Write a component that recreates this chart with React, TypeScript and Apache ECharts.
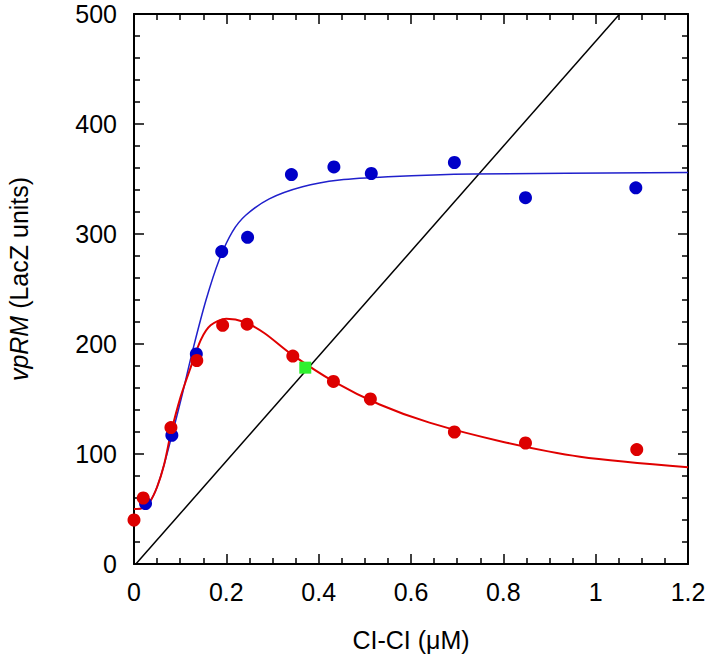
import React, { useEffect, useRef } from "react";
import * as echarts from "echarts";

const xTicks = [0, 0.2, 0.4, 0.6, 0.8, 1, 1.2];
const yTicks = [0, 100, 200, 300, 400, 500];

const bluePoints: [number, number][] = [
  [0.025, 55], [0.082, 117], [0.135, 191], [0.19, 284], [0.246, 297],
  [0.341, 354], [0.433, 361], [0.514, 355], [0.694, 365], [0.848, 333], [1.087, 342],
];
const redPoints: [number, number][] = [
  [0, 40], [0.02, 60], [0.08, 124], [0.136, 185], [0.192, 217], [0.245, 218],
  [0.344, 189], [0.432, 166], [0.512, 150], [0.694, 120], [0.848, 110], [1.089, 104],
];
const blueCurve: [number, number][] = [
  [0, 50], [0.02, 51], [0.035, 57], [0.05, 70], [0.065, 90], [0.087, 125],
  [0.105, 155], [0.127, 194], [0.156, 240], [0.184, 276], [0.213, 302],
  [0.242, 317], [0.293, 332], [0.365, 343], [0.445, 349], [0.55, 352],
  [0.734, 354.5], [1.2, 356],
];
const redCurve: [number, number][] = [
  [0, 50], [0.02, 51], [0.035, 57], [0.05, 70], [0.065, 90], [0.08, 119],
  [0.101, 152], [0.123, 179], [0.145, 204], [0.166, 217], [0.2, 223],
  [0.239, 220], [0.282, 210], [0.34, 191], [0.432, 166], [0.532, 145],
  [0.64, 128.5], [0.8, 111], [0.966, 97.6], [1.2, 88],
];
const identityLine: [number, number][] = [[0.004, 0], [1.052, 500]];
const intersection: [number, number][] = [[0.371, 178.5]];

const FONT = "'Liberation Sans', Arial, sans-serif";
const FS = 25;

export default function App() {
  const ref = useRef<HTMLDivElement>(null);
  useEffect(() => {
    if (!ref.current) return;
    const chart = echarts.init(ref.current, undefined, { renderer: "svg" });
    const axisCommon = {
      axisLine: { show: true, onZero: false, lineStyle: { color: "#000", width: 2 } },
      axisTick: { show: true, inside: true, length: 10, lineStyle: { color: "#000", width: 1.5 } },
      minorTick: { show: true, length: 6, lineStyle: { color: "#000", width: 1.5 } },
      splitLine: { show: false },
      minorSplitLine: { show: false },
    };
    chart.setOption({
      animation: false,
      backgroundColor: "#fff",
      grid: { left: 134, right: 22, top: 14, bottom: 100 },
      xAxis: [
        {
          type: "value", min: 0, max: 1.2, interval: 0.2, position: "bottom",
          ...axisCommon,
          minorTick: { ...axisCommon.minorTick, splitNumber: 4 },
          axisLabel: {
            color: "#000", fontSize: FS, fontFamily: FONT, margin: 15,
            formatter: (v: number) => (xTicks.includes(Math.round(v * 10) / 10) ? String(Math.round(v * 10) / 10) : ""),
          },
          name: "CI-CI (\u03bcM)", nameLocation: "middle", nameGap: 63,
          nameTextStyle: { color: "#000", fontSize: FS, fontFamily: FONT },
        },
        {
          type: "value", min: 0, max: 1.2, interval: 0.2, position: "top",
          ...axisCommon,
          minorTick: { ...axisCommon.minorTick, splitNumber: 4 },
          axisLabel: { show: false },
        },
      ],
      yAxis: [
        {
          type: "value", min: 0, max: 500, interval: 100, position: "left",
          ...axisCommon,
          minorTick: { ...axisCommon.minorTick, splitNumber: 5 },
          axisLabel: {
            color: "#000", fontSize: FS, fontFamily: FONT, margin: 17,
            formatter: (v: number) => (yTicks.includes(v) ? String(v) : ""),
          },
        },
        {
          type: "value", min: 0, max: 500, interval: 100, position: "right",
          ...axisCommon,
          minorTick: { ...axisCommon.minorTick, splitNumber: 5 },
          axisLabel: { show: false },
        },
      ],
      graphic: [
        {
          type: "text",
          x: 19, y: 279, rotation: Math.PI / 2,
          style: {
            text: "{i|vpRM} (LacZ units)",
            fontSize: FS, fontFamily: FONT, fill: "#000",
            align: "center", verticalAlign: "middle",
            rich: { i: { fontStyle: "italic", fontSize: FS, fontFamily: FONT, fill: "#000" } },
          },
        },
      ],
      series: [
        {
          type: "line", data: identityLine, showSymbol: false, symbol: "none",
          lineStyle: { color: "#000", width: 1.5 }, z: 2, clip: true,
        },
        {
          type: "line", data: blueCurve, smooth: 0.3, symbol: "none",
          lineStyle: { color: "#2020cc", width: 1.5 }, z: 2,
        },
        {
          type: "line", data: redCurve, smooth: 0.3, symbol: "none",
          lineStyle: { color: "#e00000", width: 2 }, z: 3,
        },
        {
          type: "scatter", data: bluePoints, symbol: "circle", symbolSize: 13,
          itemStyle: { color: "#0000c8", opacity: 1 }, z: 4,
        },
        {
          type: "scatter", data: redPoints, symbol: "circle", symbolSize: 13,
          itemStyle: { color: "#dd0000", opacity: 1 }, z: 5,
        },
        {
          type: "scatter", data: intersection, symbol: "rect", symbolSize: 12,
          itemStyle: { color: "#2ef02e", opacity: 1 }, z: 6,
        },
      ],
    });
    return () => chart.dispose();
  }, []);
  return <div ref={ref} style={{ position: "fixed", left: 0, top: 0, width: 710, height: 664 }} />;
}
